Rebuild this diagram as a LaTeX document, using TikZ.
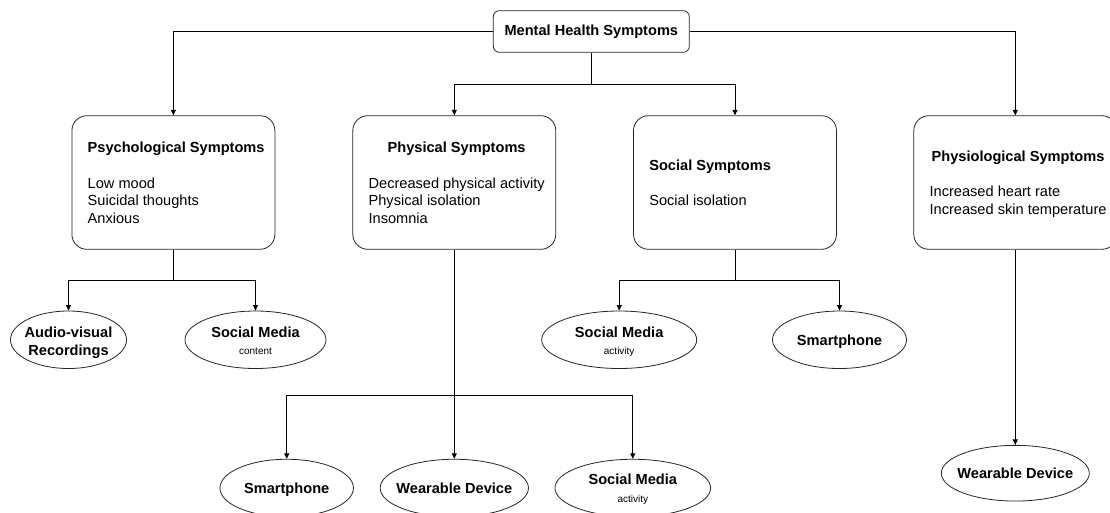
\documentclass[tikz,border=0pt]{standalone}
\usepackage{fontspec}
\setmainfont{Liberation Sans}
\usetikzlibrary{arrows.meta,calc,shapes.geometric}
\tikzset{
  box/.style={draw=black!85, line width=0.8pt, rounded corners=15pt, minimum width=203pt, minimum height=133.6pt, inner sep=0pt},
  topbox/.style={draw=black!85, line width=0.8pt, rounded corners=6pt, minimum width=196pt, minimum height=41.6pt, inner sep=0pt, font=\fontsize{14.6}{17.8}\selectfont\bfseries},
  boxtext/.style={anchor=west, inner sep=0pt, yshift=-2pt, font=\fontsize{14.6}{17.8}\selectfont},
  ell/.style={draw=black!85, line width=0.8pt, ellipse, minimum height=57.5pt, inner sep=0pt},
  lbl/.style={anchor=base, inner sep=0pt, font=\fontsize{14.6}{17.8}\selectfont\bfseries},
  sublbl/.style={anchor=base, inner sep=0pt, font=\fontsize{10}{12}\selectfont},
  conn/.style={draw=black, line width=0.8pt},
  arr/.style={conn, -{Triangle[length=5.5pt,width=5pt]}},
}
\begin{document}
\begin{tikzpicture}[x=1pt,y=-1pt]
\useasboundingbox (0,0) rectangle (1110,512);
\clip (0,0) rectangle (1110,512);
\fill[white] (0,0) rectangle (1110,512);

% top
\node[topbox] (top) at (591.3,31.5) {Mental Health Symptoms};

% category boxes
\node[box] (psych) at (173.4,182.5) {};
\node[box] (phys) at (454.3,182.5) {};
\node[box] (soc) at (735,182.5) {};
\node[box] (physio) at (1015.3,182.5) {};

\node[boxtext] (psychT) at ($(psych.west)+(16,0)$) {\begin{tabular}{@{}l@{}}\multicolumn{1}{@{}c@{}}{\bfseries Psychological Symptoms}\\ \\ Low mood\\ Suicidal thoughts\\ Anxious\end{tabular}};
\node[boxtext] (physT) at ($(phys.west)+(16,0)$) {\begin{tabular}{@{}l@{}}\multicolumn{1}{@{}c@{}}{\bfseries Physical Symptoms}\\ \\ Decreased physical activity\\ Physical isolation\\ Insomnia\end{tabular}};
\node[boxtext] (socT) at ($(soc.west)+(16,0)$) {\begin{tabular}{@{}l@{}}\multicolumn{1}{@{}c@{}}{\bfseries Social Symptoms}\\ \\ Social isolation\end{tabular}};
\node[boxtext] (physioT) at ($(physio.west)+(16,0)$) {\begin{tabular}{@{}l@{}}\multicolumn{1}{@{}c@{}}{\bfseries Physiological Symptoms}\\ \\ Increased heart rate\\ Increased skin temperature\end{tabular}};

% ellipses, upper row
\node[ell, minimum width=116pt] (av) at (68.5,339.75) {};
\node[lbl] (avA) at ($(av)+(0,-2.3)$) {Audio-visual};
\node[lbl] (avB) at ($(av)+(0,15.7)$) {Recordings};

\node[ell, minimum width=141pt] (smc) at (255.5,339.75) {};
\node[lbl] (smcA) at ($(smc)+(0,-2.5)$) {Social Media};
\node[sublbl] (smcB) at ($(smc)+(0,15)$) {content};

\node[ell, minimum width=155pt] (smaA) at (619.2,339.75) {};
\node[lbl] (smaAa) at ($(smaA)+(0,-2.5)$) {Social Media};
\node[sublbl] (smaAb) at ($(smaA)+(0,15)$) {activity};

\node[ell, minimum width=134pt] (spA) at (839.5,339.75) {};
\node[lbl] (spAt) at ($(spA)+(0,5.5)$) {Smartphone};

% ellipses, lower row
\node[ell, minimum width=133.5pt] (spB) at (286.7,488) {};
\node[lbl] (spBt) at ($(spB)+(0,5.5)$) {Smartphone};

\node[ell, minimum width=148.3pt] (wdA) at (454.3,488) {};
\node[lbl] (wdAt) at ($(wdA)+(0,5.5)$) {Wearable Device};

\node[ell, minimum width=155.7pt] (smaB) at (632.8,488) {};
\node[lbl] (smaBa) at ($(smaB)+(0,-3.5)$) {Social Media};
\node[sublbl] (smaBb) at ($(smaB)+(0,14)$) {activity};

\node[ell, minimum width=148pt, minimum height=55.7pt] (wdB) at (1015.3,473.2) {};
\node[lbl] (wdBt) at ($(wdB)+(0,5.5)$) {Wearable Device};

% connectors from top
\draw[arr] (top.west) -| (psych.north);
\draw[arr] (top.east) -| (physio.north);
\coordinate (j1) at ($(top.south)+(0,32)$);
\draw[conn] (top.south) -- (j1);
\draw[arr] (j1) -| (phys.north);
\draw[arr] (j1) -| (soc.north);

% psychological
\coordinate (j2) at ($(psych.south)+(0,31)$);
\draw[conn] (psych.south) -- (j2);
\draw[arr] (j2) -| (av.north);
\draw[arr] (j2) -| (smc.north);

% social
\coordinate (j3) at ($(soc.south)+(0,31)$);
\draw[conn] (soc.south) -- (j3);
\draw[arr] (j3) -| (smaA.north);
\draw[arr] (j3) -| (spA.north);

% physical
\draw[arr] (phys.south) -- (wdA.north);
\coordinate (j4) at ($(phys.south)+(0,146)$);
\draw[arr] (j4) -| (spB.north);
\draw[arr] (j4) -| (smaB.north);

% physiological
\draw[arr] (physio.south) -- (wdB.north);
\end{tikzpicture}
\end{document}
